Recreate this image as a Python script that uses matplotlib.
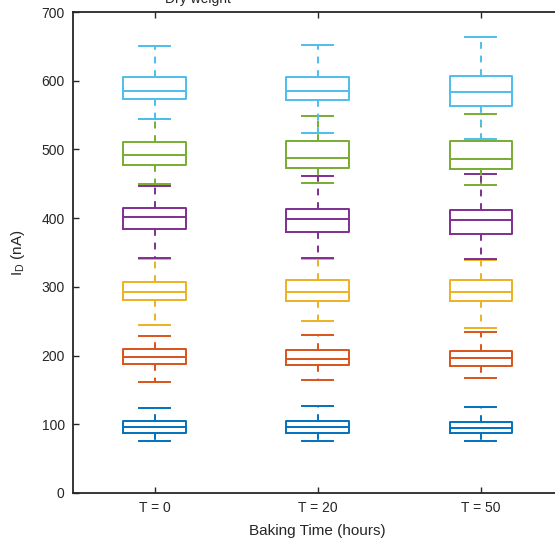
"""Box plots of drain current against baking time."""

# ---------- Imports ---------- #
import matplotlib

matplotlib.use("Agg")
import matplotlib.pyplot as plt

# ---------- Data ---------- #
groups = ["T = 0", "T = 20", "T = 50"]

# one list per current level, one entry per baking time: [low, q1, median, q3, high]
level_100 = [[76, 88, 96.5, 105, 124], [76, 87, 96.5, 105, 126], [76, 87, 95, 103, 125]]
level_200 = [[161, 188, 197.5, 209, 229], [165, 186, 195, 208, 230], [167, 185, 196, 207, 234]]
level_300 = [[245, 281, 293, 307, 340], [250, 279, 292, 310, 341], [240, 280, 292, 310, 339]]
level_400 = [[342, 384, 401, 415, 447], [342, 380, 399, 413, 461], [340, 377, 397, 412, 464]]
level_500 = [[449, 478, 492, 511, 545], [451, 473, 488, 512, 549], [448, 471, 486, 512, 551]]
level_600 = [[545, 573, 585, 606, 651], [524, 572, 585, 606, 652], [515, 563, 583, 607, 663]]

levels = [level_100, level_200, level_300, level_400, level_500, level_600]
colors = ["#0072BD", "#D95319", "#EDB120", "#7E2F8E", "#77AC30", "#4DBEEE"]

# ---------- Style ---------- #
plt.rcParams["font.family"] = ["Liberation Sans", "DejaVu Sans"]
plt.rcParams["mathtext.fontset"] = "custom"
plt.rcParams["mathtext.rm"] = "Liberation Sans"
text_color = "#262626"


def to_stats(rows):
    """Turn [low, q1, med, q3, high] rows into bxp stats dicts."""
    return [
        {"whislo": r[0], "q1": r[1], "med": r[2], "q3": r[3], "whishi": r[4], "fliers": []}
        for r in rows
    ]


# ---------- Plot ---------- #
fig = plt.figure(figsize=(5.55, 5.46), dpi=100)
ax = fig.add_axes([73 / 555, 53 / 546, 489.5 / 555, 481 / 546])

positions = list(range(1, len(groups) + 1))
for rows, color in zip(levels, colors):
    lw = 1.4
    ax.bxp(
        to_stats(rows),
        positions=positions,
        widths=0.385,
        showfliers=False,
        boxprops=dict(color=color, linewidth=lw),
        medianprops=dict(color=color, linewidth=lw),
        whiskerprops=dict(color=color, linewidth=lw, linestyle=(0, (3.5, 3.5))),
        capprops=dict(color=color, linewidth=lw),
        capwidths=0.19,
    )

ax.set_xlim(0.5, 3.5)
ax.set_ylim(0, 700)
ax.set_xticks(positions)
ax.set_xticklabels(groups)
ax.set_yticks(range(0, 701, 100))
ax.tick_params(
    direction="in", length=4, width=1, colors=text_color,
    labelsize=10, top=True, right=True, pad=6,
)
for spine in ax.spines.values():
    spine.set_color(text_color)
    spine.set_linewidth(1.3)

ax.set_xlabel("Baking Time (hours)", fontsize=11, color=text_color, labelpad=6)
ax.set_ylabel(r"$\mathrm{I_D}$ (nA)", fontsize=11, color=text_color, labelpad=10)

# title clipped at the top edge of the image, as in the source figure
fig.text(198 / 555, 543 / 546, "Dry weight", ha="center", va="baseline",
         fontsize=10, color=text_color)

fig.savefig("out.png", dpi=100)
